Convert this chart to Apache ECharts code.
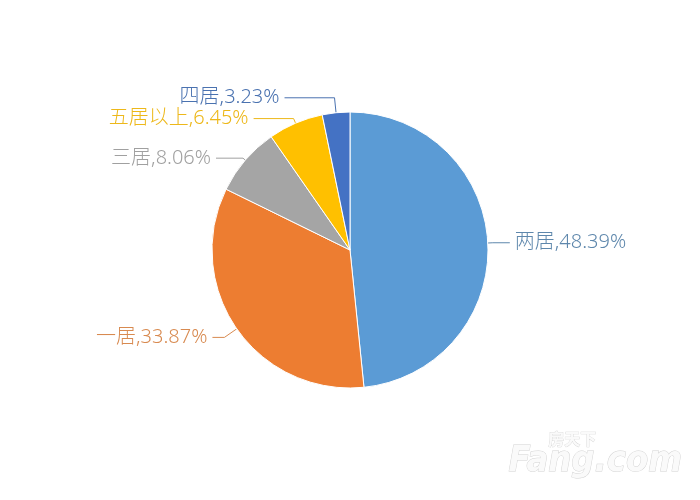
<!DOCTYPE html>
<html><head><meta charset="utf-8">
<script src="https://cdn.jsdelivr.net/npm/echarts@6/dist/echarts.min.js"></script>
<style>html,body{margin:0;padding:0;background:#fff}#c{width:700px;height:500px}</style>
</head><body><div id="c"></div>
<script>
const categories = ['两居', '一居', '三居', '五居以上', '四居'];
const values = [30, 21, 5, 4, 2];
const sliceColors = ['#5B9BD5', '#ED7D31', '#A5A5A5', '#FFC000', '#4472C4'];
const labelColors = ['#5E87AC', '#D88A50', '#A0A0A0', '#EDB81A', '#4A72B0'];
const lineLengths = [5, 15, 3, 5, 15];
const lineLengths2 = [17, 12, 27, 40, 50];

const chart = echarts.init(document.getElementById('c'));
chart.setOption({
  animation: false,
  backgroundColor: '#fff',
  graphic: [
    {type: 'text', left: 548, top: 431, style: {text: '房天下', fill: '#fafafa', font: 'bold 16px "Noto Sans CJK SC"', stroke: '#d4d4d4', lineWidth: 0.7}},
    {type: 'text', left: 508, top: 443, style: {text: 'Fang.com', fill: '#fafafa', font: 'italic bold 36px "DejaVu Sans Condensed"', stroke: '#d2d2d2', lineWidth: 0.9}}
  ],
  series: [{
    type: 'pie',
    center: [350, 250],
    radius: 138,
    startAngle: 90,
    clockwise: true,
    avoidLabelOverlap: false,
    data: categories.map((n, i) => ({
      name: n, value: values[i],
      itemStyle: {color: sliceColors[i]},
      label: {color: labelColors[i]},
      labelLine: {length: lineLengths[i], length2: lineLengths2[i], lineStyle: {color: labelColors[i]}}
    })),
    itemStyle: {borderColor: '#fff', borderWidth: 1},
    label: {
      formatter: '{b},{d}%',
      fontSize: 20,
      fontWeight: 300,
      fontFamily: '"Noto Sans", "Noto Sans CJK SC", sans-serif'
    },
    labelLine: {lineStyle: {width: 1}}
  }]
});
</script></body></html>
